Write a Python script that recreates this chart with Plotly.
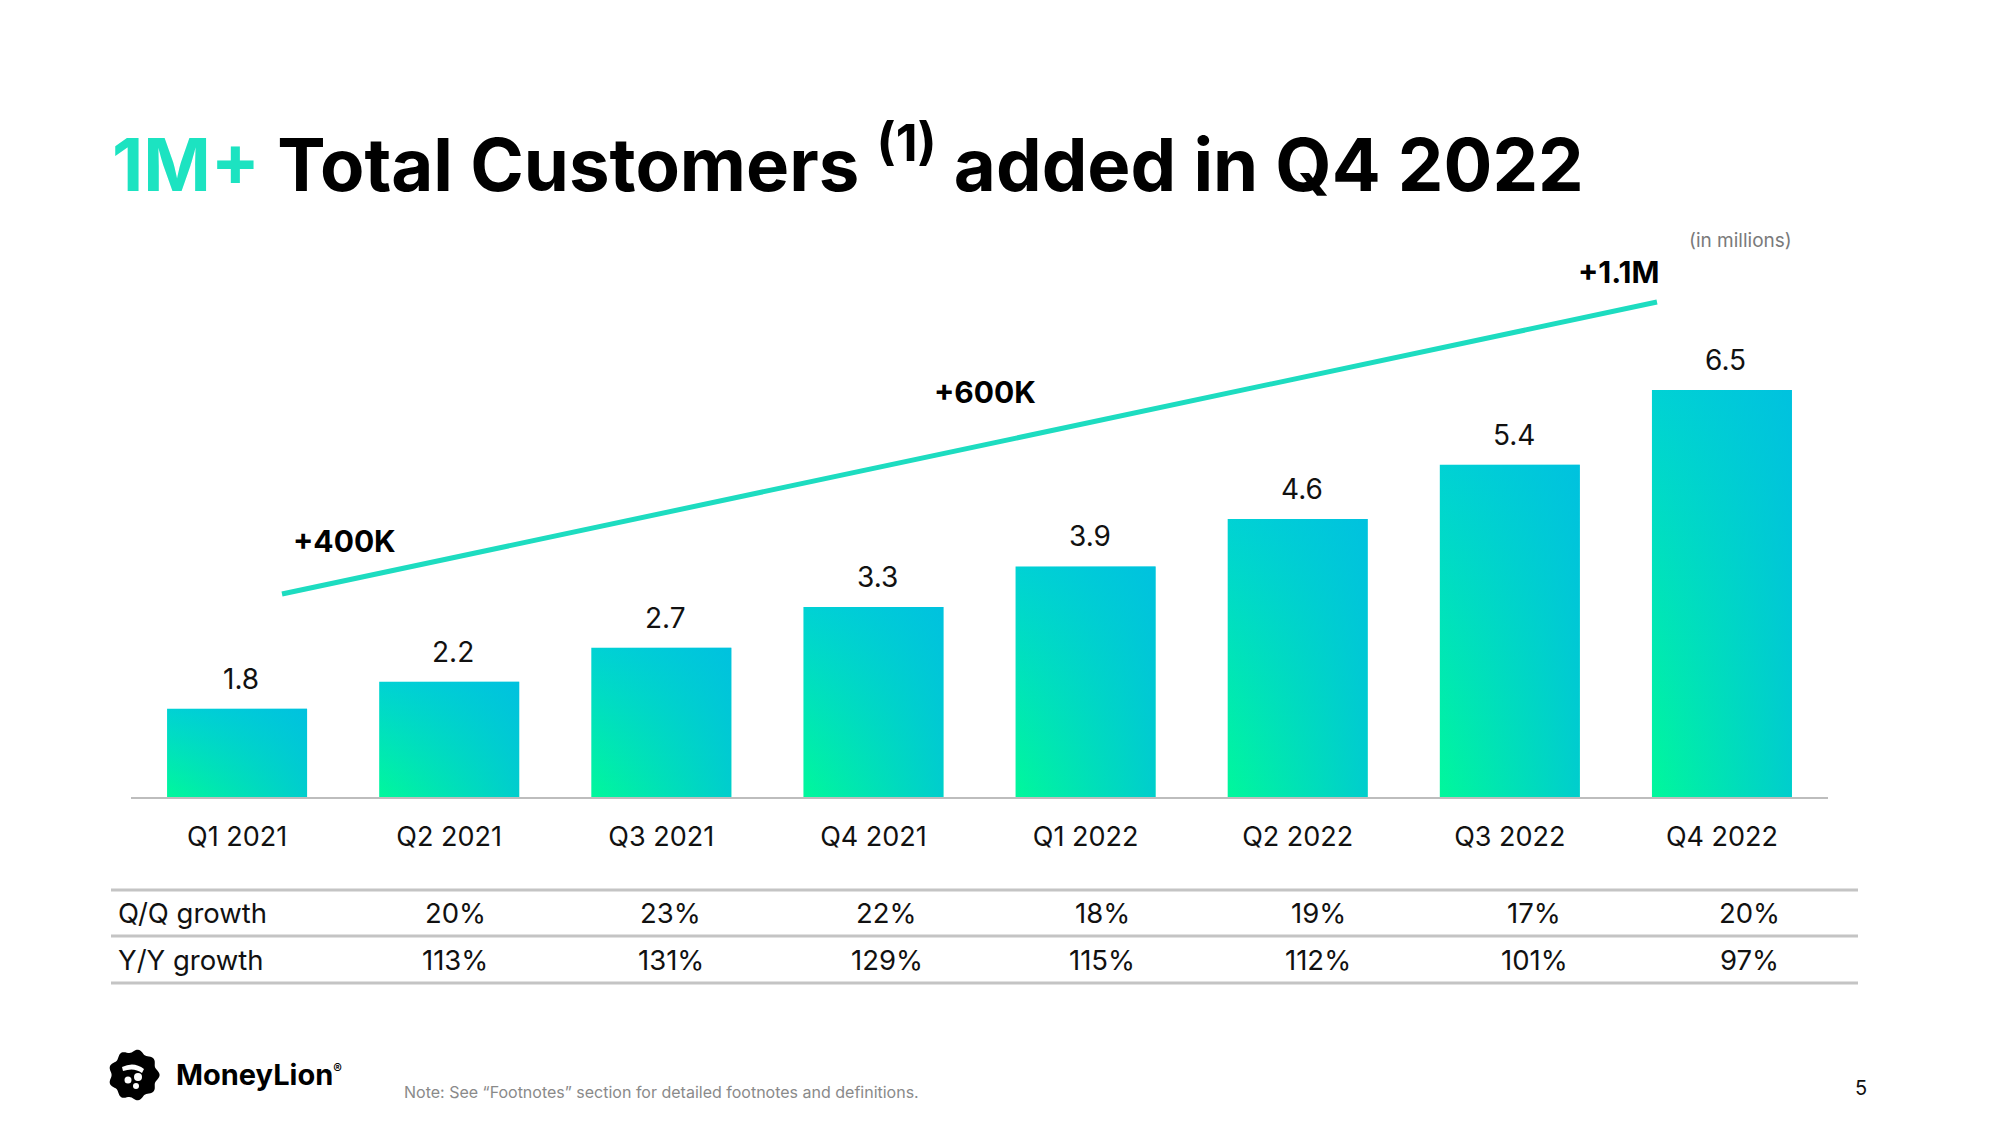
import numpy as np
import plotly.graph_objects as go

# ---------------- data ----------------
categories = ["Q1 2021", "Q2 2021", "Q3 2021", "Q4 2021", "Q1 2022", "Q2 2022", "Q3 2022", "Q4 2022"]
customers_m = [1.8, 2.2, 2.7, 3.3, 3.9, 4.6, 5.4, 6.5]
value_labels = ["1.8", "2.2", "2.7", "3.3", "3.9", "4.6", "5.4", "6.5"]
qq_growth = ["20%", "23%", "22%", "18%", "19%", "17%", "20%"]
yy_growth = ["113%", "131%", "129%", "115%", "112%", "101%", "97%"]
row_labels = ["Q/Q growth", "Y/Y growth"]
callouts = ["+400K", "+600K", "+1.1M"]

# ---------------- styling ----------------
PAGE_M = 8                      # default body margin of the html page
FIG_W, FIG_H = 2000 - 2 * PAGE_M, 1125 - 2 * PAGE_M
FONT = "Inter"
TEAL = "#1CE3C1"
LINE_TEAL = "#1DDCC0"
Y_FLOOR = 0.5
Y_TOP = 8.86
BAR_W = 0.66


def px(x):
    return (x - PAGE_M) / FIG_W


def py(y):
    return 1 - (y - PAGE_M) / FIG_H


fig = go.Figure()

# gradient bars (vertical green->teal + horizontal transparent->blue overlay)
for i, v in enumerate(customers_m):
    xs = [i - BAR_W / 2, i + BAR_W / 2, i + BAR_W / 2, i - BAR_W / 2, i - BAR_W / 2]
    ys = [Y_FLOOR, Y_FLOOR, v, v, Y_FLOOR]
    fig.add_trace(go.Scatter(
        x=xs, y=ys, mode="lines", fill="toself", line=dict(width=0),
        fillgradient=dict(type="vertical", colorscale=[[0, "#00F89B"], [1, "#00D2D4"]]),
        hoverinfo="skip", showlegend=False))
    fig.add_trace(go.Scatter(
        x=xs, y=ys, mode="lines", fill="toself", line=dict(width=0),
        fillgradient=dict(type="horizontal",
                          colorscale=[[0, "rgba(0,186,228,0)"], [1, "rgba(0,186,228,0.68)"]]),
        hoverinfo="skip", showlegend=False))

annotations = []
# value labels above bars
for i, (v, lab) in enumerate(zip(customers_m, value_labels)):
    annotations.append(dict(x=i, y=v, xref="x", yref="y", text=lab, showarrow=False,
                            xanchor="center", yanchor="middle", yshift=30, xshift=4,
                            font=dict(family=FONT, size=28, color="#111111")))

# title
annotations.append(dict(
    x=px(110), y=py(160), xref="paper", yref="paper", xanchor="left", yanchor="middle",
    text=(f'<span style="color:{TEAL}">1M+</span> Total Customers '
          '<sup>(1)</sup> added in Q4 2022'),
    showarrow=False, font=dict(family=FONT, size=72.5, color="#000000", weight=700)))

# (in millions)
annotations.append(dict(x=px(1740), y=py(241), xref="paper", yref="paper", text="(in millions)",
                        xanchor="center", yanchor="middle",
                        showarrow=False, font=dict(family=FONT, size=19, color="#7A7A7A")))

# callouts along the trend line
for (cx, cy), txt in zip([(344, 541), (985, 392), (1619, 272)], callouts):
    annotations.append(dict(x=px(cx), y=py(cy), xref="paper", yref="paper", text=txt,
                            xanchor="center", yanchor="middle", showarrow=False,
                            font=dict(family=FONT, size=30, color="#000000", weight=700)))

# table
row_y = [913, 960]
for r, (lab, vals) in enumerate(zip(row_labels, [qq_growth, yy_growth])):
    annotations.append(dict(x=px(116), y=py(row_y[r]), xref="paper", yref="paper",
                            xanchor="left", yanchor="middle", text=lab, showarrow=False,
                            font=dict(family=FONT, size=27.5, color="#111111")))
    for c, val in enumerate(vals):
        annotations.append(dict(x=px(455 + 215.8 * c), y=py(row_y[r]), xref="paper", yref="paper",
                                xanchor="center", yanchor="middle", text=val, showarrow=False,
                                font=dict(family=FONT, size=27.5, color="#111111")))

# footer
annotations.append(dict(x=px(174), y=py(1074), xref="paper", yref="paper", xanchor="left",
                        yanchor="middle",
                        text='MoneyLion<sup><span style="font-size:13px">®</span></sup>',
                        showarrow=False,
                        font=dict(family=FONT, size=29, color="#000000", weight=700)))
annotations.append(dict(x=px(402), y=py(1092), xref="paper", yref="paper", xanchor="left",
                        yanchor="middle",
                        text="Note: See \u201cFootnotes\u201d section for detailed footnotes and definitions.",
                        showarrow=False, font=dict(family=FONT, size=16, color="#8A8A8A")))
annotations.append(dict(x=px(1861), y=py(1088), xref="paper", yref="paper", text="5",
                        xanchor="center", yanchor="middle",
                        showarrow=False, font=dict(family=FONT, size=20, color="#111111")))

shapes = []
# trend line
shapes.append(dict(type="line", xref="paper", yref="paper", x0=px(282), y0=py(594),
                   x1=px(1657), y1=py(302), line=dict(color=LINE_TEAL, width=5)))
# table rules
for yy in [890, 936, 983]:
    shapes.append(dict(type="line", xref="paper", yref="paper", x0=px(111), x1=px(1858),
                       y0=py(yy), y1=py(yy), line=dict(color="#C4C4C4", width=3)))

# logo badge (scalloped)
th = np.linspace(0, 2 * np.pi, 121)
rr = 24 + 1.6 * np.cos(9 * th)
pts = [(rr[k] * np.cos(th[k]), rr[k] * np.sin(th[k])) for k in range(len(th))]
path = "M " + " L ".join(f"{a:.2f},{b:.2f}" for a, b in pts) + " Z"
shapes.append(dict(type="path", xref="paper", yref="paper", xsizemode="pixel", ysizemode="pixel",
                   xanchor=px(134), yanchor=py(1075), path=path,
                   fillcolor="#000000", line=dict(width=0)))
# lion face marks
shapes.append(dict(type="path", xref="paper", yref="paper", xsizemode="pixel", ysizemode="pixel",
                   xanchor=px(134), yanchor=py(1075),
                   path="M -12,8 Q 0,14 10,6 L 8,2 Q 0,8 -11,4 Z",
                   fillcolor="#FFFFFF", line=dict(width=0)))
for (dx, dy, r) in [(4, -2, 4), (-6, -5, 3.5), (2, -11, 3)]:
    shapes.append(dict(type="circle", xref="paper", yref="paper", xsizemode="pixel",
                       ysizemode="pixel", xanchor=px(134), yanchor=py(1075),
                       x0=dx - r, x1=dx + r, y0=dy - r, y1=dy + r,
                       fillcolor="#FFFFFF", line=dict(width=0)))

fig.update_layout(
    width=FIG_W, height=FIG_H,
    margin=dict(l=0, r=0, t=0, b=0),
    paper_bgcolor="#FFFFFF", plot_bgcolor="#FFFFFF",
    showlegend=False,
    annotations=annotations,
    shapes=shapes,
    xaxis=dict(domain=[px(131), px(1828)], range=[-0.5, 7.5], tickmode="array",
               tickvals=list(range(len(categories))), ticktext=categories,
               showgrid=False, zeroline=False, showline=True, linecolor="#BDBDBD", linewidth=2,
               ticks="outside", ticklen=15, tickcolor="rgba(0,0,0,0)",
               tickfont=dict(family=FONT, size=27, color="#111111"), fixedrange=True),
    yaxis=dict(domain=[py(797), py(230)], range=[Y_FLOOR, Y_TOP], visible=False,
               showgrid=False, zeroline=False, fixedrange=True),
)

fig.write_html("out.html")
